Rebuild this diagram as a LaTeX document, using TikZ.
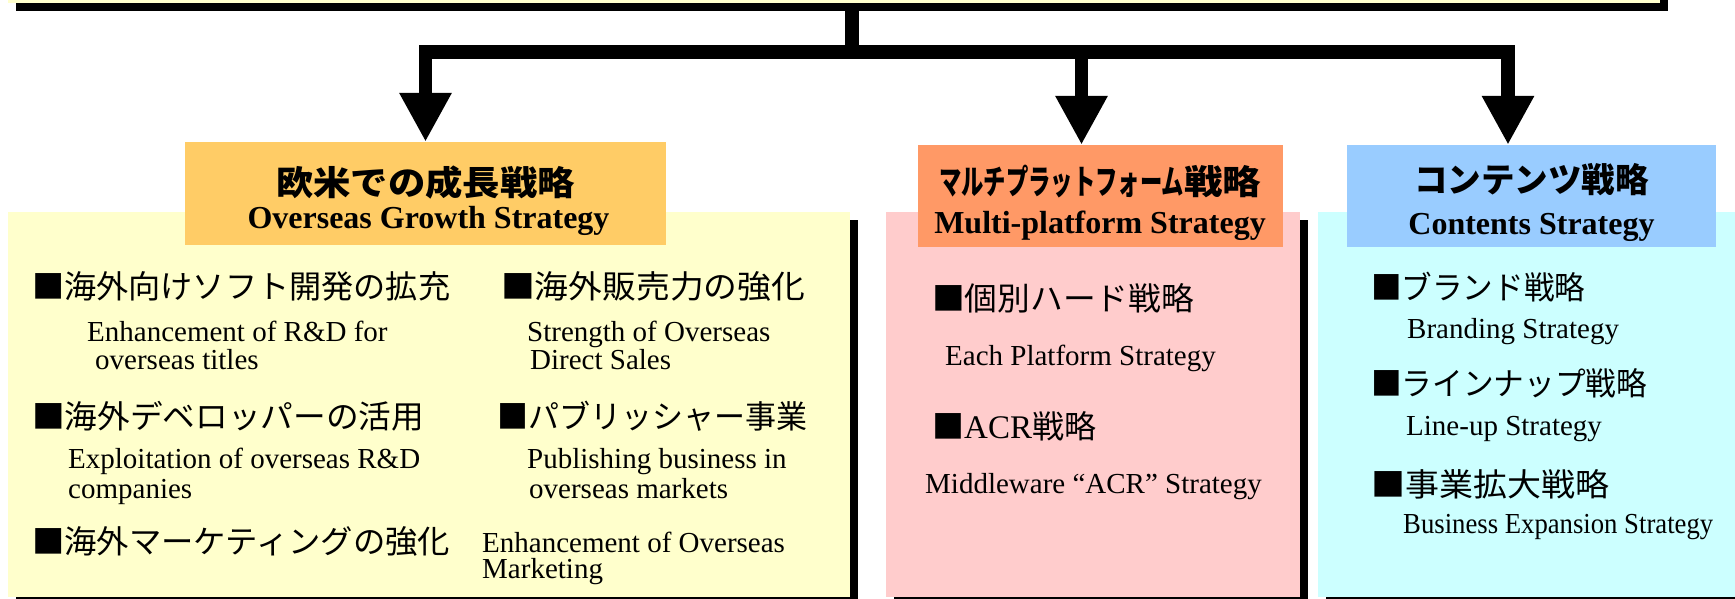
\documentclass[tikz,border=0pt]{standalone}
\usepackage{fontspec}
\setmainfont{Liberation Serif}
\newfontfamily\jp{Noto Sans CJK JP}
\usetikzlibrary{arrows.meta,shadows,calc}
\definecolor{panelY}{HTML}{FFFFCC}
\definecolor{panelP}{HTML}{FFCCCC}
\definecolor{panelC}{HTML}{CCFFFF}
\definecolor{headO}{HTML}{FFCC66}
\definecolor{headS}{HTML}{FF9966}
\definecolor{headB}{HTML}{99CCFF}
\newcommand\hfit[2]{\resizebox{#1pt}{\height}{#2}}
\begin{document}
\begin{tikzpicture}[x=1pt,y=-1pt,
  panel/.style={rectangle,inner sep=0pt,draw=none,
    drop shadow={shadow xshift=8pt,shadow yshift=-8pt,fill=black,opacity=1}},
  header/.style={rectangle,inner sep=0pt,draw=none},
  txt/.style={anchor=base west,inner sep=0pt},
  ttl/.style={anchor=base,inner sep=0pt},
  jpitem/.style={txt,font=\jp\fontsize{32}{32}\selectfont},
  enitem/.style={txt,font=\fontsize{29}{29}\selectfont},
  jptitle/.style={ttl,font=\jp\bfseries\fontsize{34}{34}\selectfont},
  entitle/.style={ttl,font=\bfseries\fontsize{32}{32}\selectfont},
  conn/.style={line width=13.5pt,-{Triangle[width=49pt,length=49pt]}},
  bar/.style={line width=14pt}]
\useasboundingbox (0,0) rectangle (1735,599);
\clip (0,0) rectangle (1735,599);

% top box (cut off)
\node[panel,fill=panelY,minimum width=1652pt,minimum height=103pt] (top) at (834,-48.5) {};

% panels
\node[panel,fill=panelY,minimum width=842pt,minimum height=385pt] (p1) at (429,404.5) {};
\node[panel,fill=panelP,minimum width=414pt,minimum height=385pt] (p2) at (1093,404.5) {};
\node[panel,fill=panelC,minimum width=442pt,minimum height=385pt] (p3) at (1539,404.5) {};

% headers
\node[header,fill=headO,minimum width=481pt,minimum height=103pt] (h1) at (425.5,193.5) {};
\node[header,fill=headS,minimum width=365pt,minimum height=102pt] (h2) at (1100.5,196) {};
\node[header,fill=headB,minimum width=369pt,minimum height=102pt] (h3) at (1531.5,196) {};

\node[jptitle] (t1j) at (425.5,195) {\hfit{299}{欧米での成長戦略}};
\node[entitle] (t1e) at (428.5,228) {Overseas Growth Strategy};
\node[jptitle] (t2j) at (1100,195) {\hfit{245}{マルチプラットフォーム}\hfit{77}{戦略}};
\node[entitle] (t2e) at (1100,233) {Multi-platform Strategy};
\node[jptitle] (t3j) at (1531.5,193) {\hfit{235}{コンテンツ戦略}};
\node[entitle] (t3e) at (1531.5,234) {Contents Strategy};

% panel 1 items
\node[jpitem] (j11) at (32,298) {\hfit{418}{■海外向けソフト開発の拡充}};
\node[enitem] (e11a) at (87,341) {Enhancement of R\&D for};
\node[enitem] (e11b) at (95,369) {overseas titles};
\node[jpitem] (j12) at (501,298) {\hfit{304}{■海外販売力の強化}};
\node[enitem] (e12a) at (527,341) {Strength of Overseas};
\node[enitem] (e12b) at (530,369) {Direct Sales};
\node[jpitem] (j13) at (32,428) {\hfit{392}{■海外デベロッパーの活用}};
\node[enitem] (e13a) at (68,468) {Exploitation of overseas R\&D};
\node[enitem] (e13b) at (68,498) {companies};
\node[jpitem] (j14) at (497,428) {\hfit{310}{■パブリッシャー事業}};
\node[enitem] (e14a) at (527,468) {Publishing business in};
\node[enitem] (e14b) at (529,498) {overseas markets};
\node[jpitem] (j15) at (32,553) {\hfit{418}{■海外マーケティングの強化}};
\node[enitem] (e15a) at (482,552) {Enhancement of Overseas};
\node[enitem] (e15b) at (482,578) {Marketing};

% panel 2 items
\node[jpitem] (j21) at (932,310) {\hfit{262}{■個別ハード戦略}};
\node[enitem] (e21) at (945,365) {Each Platform Strategy};
\node[jpitem] (j22) at (932,438) {■{\rmfamily\fontsize{33}{33}\selectfont ACR}戦略};
\node[enitem] (e22) at (925,493) {Middleware “ACR” Strategy};

% panel 3 items
\node[jpitem] (j31) at (1371,299) {\hfit{214}{■ブランド戦略}};
\node[enitem] (e31) at (1407,338) {Branding Strategy};
\node[jpitem] (j32) at (1371,395) {\hfit{276}{■ラインナップ戦略}};
\node[enitem] (e32) at (1406,435) {Line-up Strategy};
\node[jpitem] (j33) at (1371,496) {\hfit{238}{■事業拡大戦略}};
\node[enitem] (e33) at (1403,533) {\hfit{310}{Business Expansion Strategy}};

% connectors
\coordinate (hub) at (852,52);
\coordinate (j1) at (425.5,52);
\coordinate (j2) at (1081.5,52);
\coordinate (j3) at (1508,52);
\draw[bar] (top.south -| hub) -- (hub);
\draw[conn] (hub) -- (j1) -- (j1 |- h1.north);
\draw[conn] (hub) -- (j3) -- (j3 |- h3.north);
\draw[conn] (j2) -- (j2 |- h2.north);
\end{tikzpicture}
\end{document}
